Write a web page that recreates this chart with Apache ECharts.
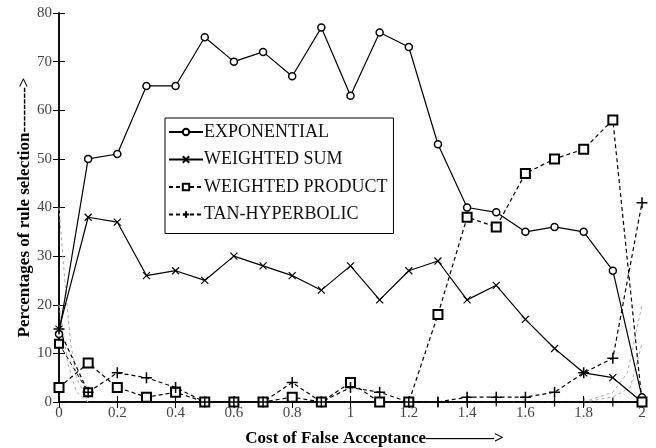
<!DOCTYPE html>
<html>
<head>
<meta charset="utf-8">
<script src="https://cdn.jsdelivr.net/npm/echarts@6/dist/echarts.min.js"></script>
<style>
html, body { margin: 0; padding: 0; background: #fff; }
#chart { width: 656px; height: 448px; }
</style>
</head>
<body>
<div id="chart"></div>
<script>
// cost of false acceptance (x)
var costs = [0, 0.1, 0.2, 0.3, 0.4, 0.5, 0.6, 0.7, 0.8, 0.9, 1.0, 1.1, 1.2, 1.3, 1.4, 1.5, 1.6, 1.7, 1.8, 1.9, 2.0];
var exponential = [14, 50, 51, 65, 65, 75, 70, 72, 67, 77, 63, 76, 73, 53, 40, 39, 35, 36, 35, 27, 1];
var weightedSum = [15, 38, 37, 26, 27, 25, 30, 28, 26, 23, 28, 21, 27, 29, 21, 24, 17, 11, 6, 5, 0];
var weightedProduct = [3, 8, 3, 1, 2, 0, 0, 0, 1, 0, 4, 0, 0, 18, 38, 36, 47, 50, 52, 58, 0];
var tanHyperbolic = [15, 2, 6, 5, 3, 0, 0, 0, 4, 0, 3, 2, 0, 0, 1, 1, 1, 2, 6, 9, 41];
// unlabelled traces visible in the figure
var extraSquare = [[0, 12], [0.1, 2]];
var zeroPlus = [[1.3, 0], [1.4, 0], [1.5, 0], [1.6, 0], [1.7, 0], [1.8, 0], [1.9, 0], [2.0, 0]];
var faintLeftA = [[0, 40], [0.02, 25], [0.04, 12], [0.06, 5], [0.1, 0]];
var faintLeftB = [[0, 20], [0.03, 8], [0.06, 2], [0.1, 0]];
var faintRightA = [[1.8, 0], [1.9, 2], [1.95, 6], [2.0, 20]];
var faintRightB = [[1.8, 0], [1.9, 1], [1.96, 3], [2.0, 12]];
var yTicks = [0, 10, 20, 30, 40, 50, 60, 70, 80];

var names = ['EXPONENTIAL', 'WEIGHTED SUM', 'WEIGHTED PRODUCT', 'TAN-HYPERBOLIC'];
var cross = 'path://M0,0L10,10M10,0L0,10';
var plus = 'path://M5,0L5,10M0,5L10,5';

function pairs(vals) {
  return vals.map(function (v, i) { return [costs[i], v]; });
}

var chart = echarts.init(document.getElementById('chart'));
var serif = 'Liberation Serif';

function faint(data) {
  return {
    type: 'line', data: data, symbol: 'none', silent: true,
    lineStyle: { color: '#aaa', width: 1, type: [3, 3] }
  };
}

var option = {
  animation: false,
  backgroundColor: '#fff',
  grid: { left: 59, right: 14, top: 13, bottom: 46, outerBoundsMode: 'none', containLabel: false },
  legend: {
    data: names,
    orient: 'vertical',
    left: 165, top: 118,
    padding: [5, 6, 10, 3],
    itemGap: 9.5,
    itemWidth: 34, itemHeight: 8,
    borderColor: '#000', borderWidth: 1,
    textStyle: { fontFamily: serif, fontSize: 18, color: '#111', padding: [0, 0, 0, -4] }
  },
  xAxis: [{
    type: 'value', min: 0, max: 2, interval: 0.2,
    name: 'Cost of False Acceptance\u2014\u2014\u2014\u2014>',
    nameLocation: 'middle', nameGap: 28, nameMoveOverlap: false,
    nameTextStyle: { fontFamily: serif, fontSize: 17, fontWeight: 'bold', color: '#000', padding: [0, 0, 0, 48] },
    axisLine: { lineStyle: { color: '#000', width: 1.5 } },
    axisTick: { inside: true, length: 6, lineStyle: { color: '#000' } },
    axisLabel: { fontFamily: serif, fontSize: 15, color: '#444', margin: 4 },
    splitLine: { show: false }
  }, {
    type: 'value', min: 0, max: 2, interval: 0.2, position: 'top',
    axisLine: { show: true, lineStyle: { color: '#000', width: 1.5 } },
    axisTick: { inside: true, length: 6, lineStyle: { color: '#000' } },
    axisLabel: { show: false },
    splitLine: { show: false }
  }],
  yAxis: [{
    type: 'value', min: 0, max: 80, interval: 10,
    name: 'Percentages of rule selection-------->',
    nameLocation: 'middle', nameGap: 26, nameMoveOverlap: false,
    nameTextStyle: { fontFamily: serif, fontSize: 17, fontWeight: 'bold', color: '#000' },
    axisLine: { show: true, lineStyle: { color: '#000', width: 1.5 } },
    axisTick: { inside: true, length: 6, lineStyle: { color: '#000' } },
    axisLabel: {
      fontFamily: serif, fontSize: 15, color: '#444', margin: 7,
      formatter: function (v) { return yTicks.indexOf(v) >= 0 ? String(v) : ''; }
    },
    splitLine: { show: false }
  }, {
    type: 'value', min: 0, max: 80, interval: 10, position: 'right',
    axisLine: { show: true, lineStyle: { color: '#000', width: 1.5 } },
    axisTick: { inside: true, length: 6, lineStyle: { color: '#000' } },
    axisLabel: { show: false },
    splitLine: { show: false }
  }],
  series: [
    faint(faintLeftA), faint(faintLeftB), faint(faintRightA), faint(faintRightB),
    {
      type: 'line', data: extraSquare, symbol: 'rect', symbolSize: 8, silent: true,
      lineStyle: { color: '#000', width: 1, type: [4, 3] },
      itemStyle: { color: '#fff', borderColor: '#000', borderWidth: 2 }
    },
    {
      type: 'line', data: zeroPlus, symbol: plus, symbolSize: 9, silent: true,
      lineStyle: { color: '#000', width: 1, type: [4, 3] },
      itemStyle: { color: 'none', borderColor: '#000', borderWidth: 1.2 }
    },
    {
      name: names[0], type: 'line', data: pairs(exponential),
      symbol: 'circle', symbolSize: 7,
      lineStyle: { color: '#000', width: 1.2 },
      itemStyle: { color: '#fff', borderColor: '#000', borderWidth: 1.5 }
    },
    {
      name: names[1], type: 'line', data: pairs(weightedSum),
      symbol: cross, symbolSize: 7,
      lineStyle: { color: '#000', width: 1.2 },
      itemStyle: { color: 'none', borderColor: '#000', borderWidth: 1.2 }
    },
    {
      name: names[2], type: 'line', data: pairs(weightedProduct),
      symbol: 'rect', symbolSize: 9,
      lineStyle: { color: '#000', width: 1.2, type: [4, 3] },
      itemStyle: { color: '#fff', borderColor: '#000', borderWidth: 2 }
    },
    {
      name: names[3], type: 'line', data: pairs(tanHyperbolic),
      symbol: plus, symbolSize: 11,
      lineStyle: { color: '#000', width: 1.2, type: [4, 3] },
      itemStyle: { color: 'none', borderColor: '#000', borderWidth: 1.5 }
    }
  ]
};
chart.setOption(option);
</script>
</body>
</html>
